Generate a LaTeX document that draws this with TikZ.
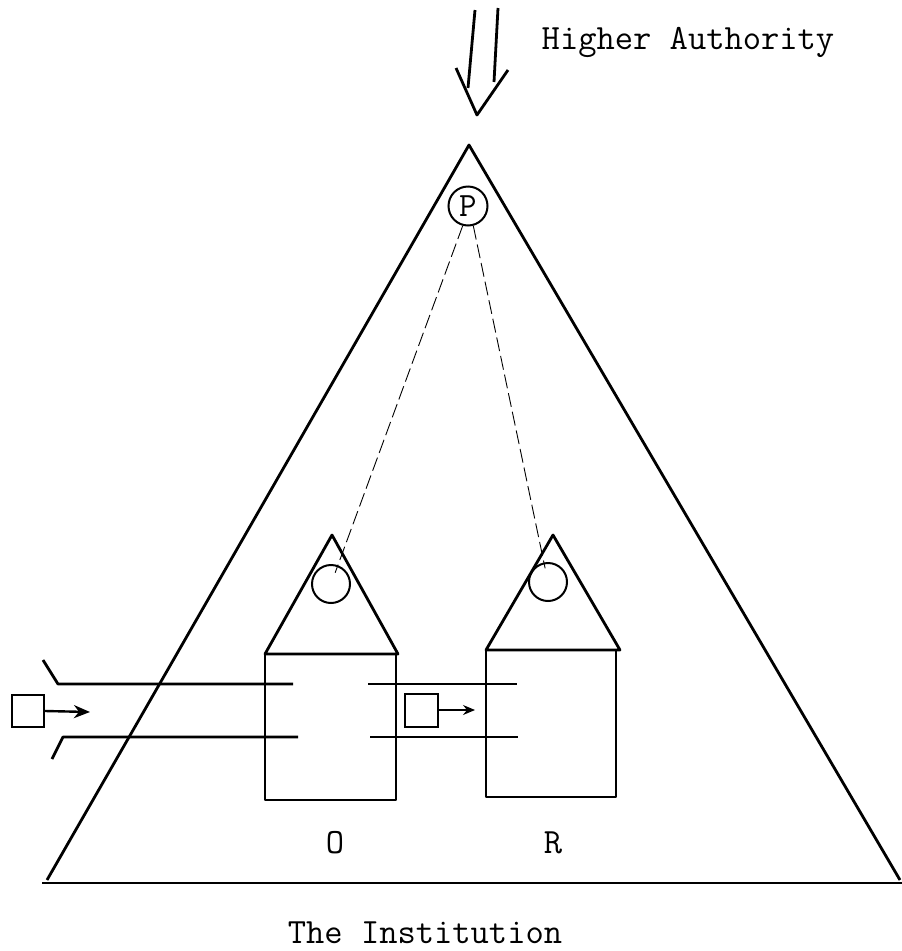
\documentclass[tikz,border=0pt]{standalone}
\usepackage{fontspec}
\usetikzlibrary{calc,positioning,arrows.meta}
\tikzset{>=latex}
\tikzset{font=\ttfamily\fontsize{35.5}{40}\selectfont}
\tikzset{outline/.style={line width=2.8pt, line join=round},
  wire/.style={line width=0.9pt, dash pattern=on 14pt off 5pt},
  item/.style={draw, line width=2pt, minimum size=32pt, inner sep=0pt},
  holder/.style={draw, circle, line width=2pt, minimum size=38pt, inner sep=0pt}}

\begin{document}
\begin{tikzpicture}[x=1pt,y=-1pt]
  \useasboundingbox (0,0) rectangle (902,951);
  % the institution
  \draw[outline] (47,880) -- (469,145) -- (900,880);
  \draw[outline] (42,883) -- (902,883);
  % pressure from above
  \draw[outline] (475,10) -- (468,88);
  \draw[outline] (498,8) -- (494,82);
  \draw[outline] (456,68) -- (477,115) -- (508,70);
  \node (higher) at (688,42) {Higher Authority};
  % the two units
  \draw[outline] (265,654) -- (332,535) -- (398,654) -- cycle;
  \draw[outline] (265,654) rectangle (396,800);
  \draw[outline] (486,650) -- (553,535) -- (620,650) -- cycle;
  \draw[outline] (486,650) rectangle (616,797);
  \node (oLabel) at (335,843) {O};
  \node (rLabel) at (553,843) {R};
  % channels
  \draw[outline] (43,660) -- (58,684) -- (293,684);
  \draw[outline] (52,759) -- (63,737) -- (298,737);
  \draw[outline] (368,684) -- (517,684);
  \draw[outline] (370,737) -- (518,737);
  % items passing through
  \node[item] (inBox) at (28,711) {};
  \coordinate (inTip) at (90,712);
  \draw[-{Stealth[length=16pt,width=13pt,inset=5pt]}, line width=2.4pt] (inBox.east) -- (inTip);
  \node[item, minimum size=33pt] (midBox) at (421,710) {};
  \coordinate (midTip) at (475,710);
  \draw[-{Stealth[length=12pt,width=10pt,inset=4pt]}, line width=1.1pt] (midBox.east) -- (midTip);
  % control lines
  \node[holder, minimum size=39pt, font=\ttfamily\fontsize{34}{38}\selectfont] (P) at (468,206) {P};
  \node[holder] (oHead) at (331,584) {};
  \node[holder] (rHead) at (548,582) {};
  \draw[wire, shorten >=12pt] (P.255) -- (oHead.center);
  \draw[wire, shorten >=14pt] (P.285) -- (rHead.center);
  \node (inst) at (425,933) {The Institution};
\end{tikzpicture}
\end{document}
